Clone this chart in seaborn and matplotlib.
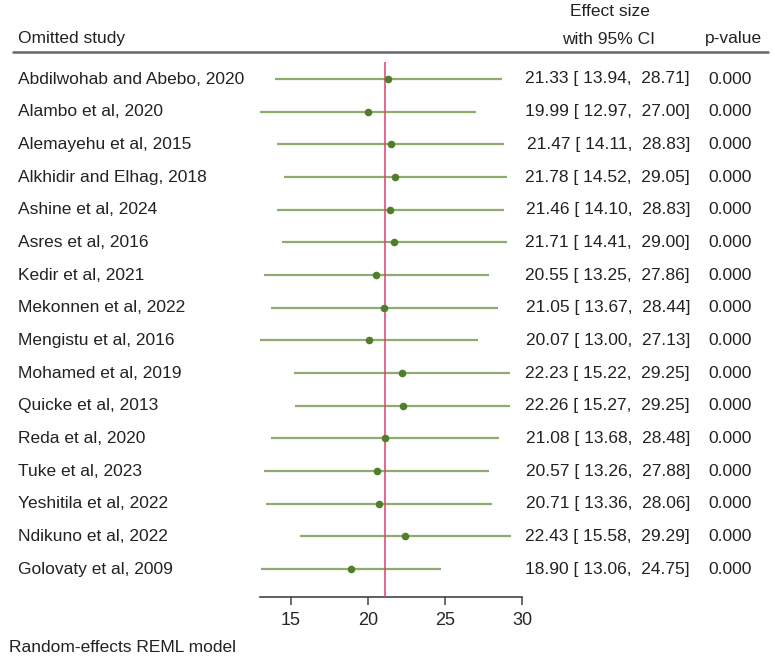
import matplotlib
matplotlib.use("Agg")
import matplotlib.pyplot as plt
import seaborn as sns
import pandas as pd
import numpy as np

studies = ["Abdilwohab and Abebo, 2020", "Alambo et al, 2020", "Alemayehu et al, 2015",
           "Alkhidir and Elhag, 2018", "Ashine et al, 2024", "Asres et al, 2016",
           "Kedir et al, 2021", "Mekonnen et al, 2022", "Mengistu et al, 2016",
           "Mohamed et al, 2019", "Quicke et al, 2013", "Reda et al, 2020",
           "Tuke et al, 2023", "Yeshitila et al, 2022", "Ndikuno et al, 2022",
           "Golovaty et al, 2009"]
effect = [21.33, 19.99, 21.47, 21.78, 21.46, 21.71, 20.55, 21.05, 20.07, 22.23,
          22.26, 21.08, 20.57, 20.71, 22.43, 18.90]
lower = [13.94, 12.97, 14.11, 14.52, 14.10, 14.41, 13.25, 13.67, 13.00, 15.22,
         15.27, 13.68, 13.26, 13.36, 15.58, 13.06]
upper = [28.71, 27.00, 28.83, 29.05, 28.83, 29.00, 27.86, 28.44, 27.13, 29.25,
         29.25, 28.48, 27.88, 28.06, 29.29, 24.75]
pvals = ["0.000"] * 16
overall = 21.1
xticks = [15, 20, 25, 30]

df = pd.DataFrame({"study": studies, "effect": effect, "lower": lower,
                   "upper": upper, "row": np.arange(len(studies))})

sns.set_style("white")
plt.rcParams['font.family'] = ['Liberation Sans', 'DejaVu Sans']

W, H = 775, 667
fig = plt.figure(figsize=(W / 100, H / 100), dpi=100)

# axes in pixel coordinates
px_per_unit = 15.4
x0_val = 12.9
x1_val = 30.3
left_px = 291 - (15 - x0_val) * px_per_unit
right_px = 291 + (x1_val - 15) * px_per_unit
top_px, bottom_px = 62, 597
ax = fig.add_axes([left_px / W, 1 - bottom_px / H, (right_px - left_px) / W,
                   (bottom_px - top_px) / H])
row0, step = 79, 32.67
ax.set_xlim(x0_val, x1_val)
ax.set_ylim((bottom_px - row0) / step, (top_px - row0) / step)

green_line = "#8fac6e"
green_pt = "#4f7f2a"
ax.hlines(df["row"], df["lower"], df["upper"], color=green_line, lw=1.6, zorder=2)
ax.axvline(overall, color="#d8436e", lw=1.1, zorder=3)
sns.scatterplot(data=df, x="effect", y="row", ax=ax, color=green_pt, s=30,
                edgecolor=green_pt, linewidth=0, zorder=4, legend=False)

for s in ["top", "right", "left"]:
    ax.spines[s].set_visible(False)
ax.spines["bottom"].set_bounds(min(lower), 30)
ax.spines["bottom"].set_color("#444444")
ax.spines["bottom"].set_linewidth(1.2)
ax.set_xticks(xticks)
ax.set_xticklabels([str(t) for t in xticks], fontsize=13)
ax.tick_params(axis="x", length=6, width=1.1, color="#444444", pad=5, bottom=True)
ax.set_yticks([])
ax.set_xlabel("")
ax.set_ylabel("")

fs = 12.5
def fy(p):
    return 1 - p / H

for i, (s, e, lo, up, p) in enumerate(zip(studies, effect, lower, upper, pvals)):
    y = fy(row0 + i * step)
    fig.text(18 / W, y, s, fontsize=fs, va="center", ha="left", color="#222222")
    fig.text(690 / W, y, f"{e:.2f} [ {lo:.2f},  {up:.2f}]", fontsize=fs,
             va="center", ha="right", color="#222222")
    fig.text(752 / W, y, p, fontsize=fs, va="center", ha="right", color="#222222")

fig.text(18 / W, fy(38), "Omitted study", fontsize=fs, va="center", ha="left", color="#222222")
fig.text(610 / W, fy(12), "Effect size", fontsize=fs, va="center", ha="center", color="#222222")
fig.text(609 / W, fy(39), "with 95% CI", fontsize=fs, va="center", ha="center", color="#222222")
fig.text(762 / W, fy(39), "p-value", fontsize=fs, va="center", ha="right", color="#222222")
fig.text(9 / W, fy(647), "Random-effects REML model", fontsize=fs, va="center",
         ha="left", color="#222222")

fig.add_artist(plt.Line2D([13 / W, 768 / W], [fy(52), fy(52)], color="#666666", lw=1.8,
                          transform=fig.transFigure))

fig.savefig("out.png", dpi=100, facecolor="white")
